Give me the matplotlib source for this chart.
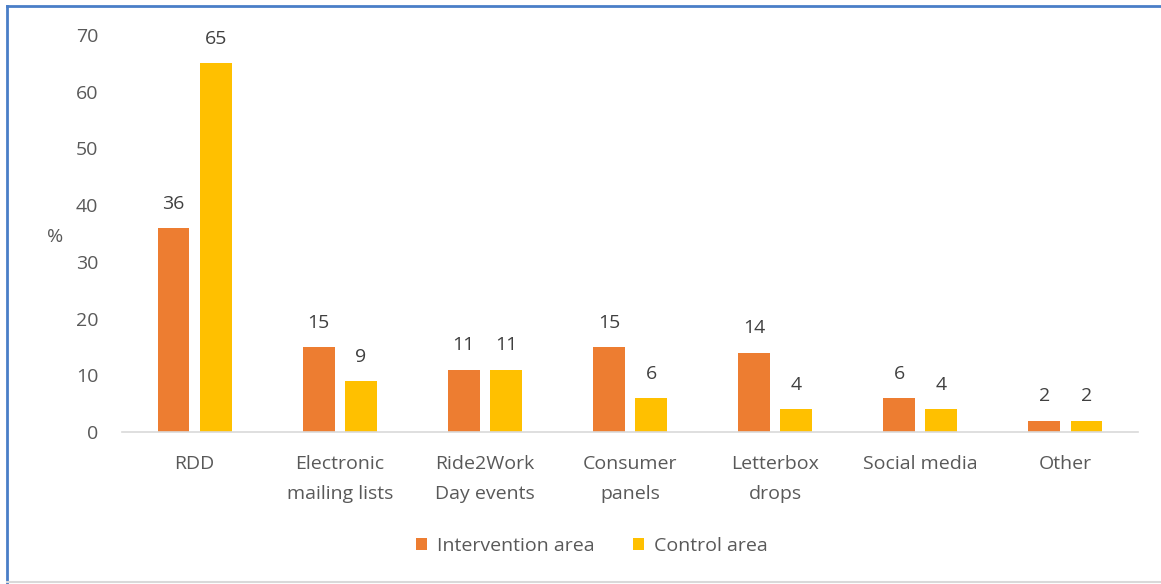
import matplotlib
matplotlib.use("Agg")
import matplotlib.pyplot as plt
import numpy as np

categories = ["RDD", "Electronic\nmailing lists", "Ride2Work\nDay events",
              "Consumer\npanels", "Letterbox\ndrops", "Social media", "Other"]
intervention = [36, 15, 11, 15, 14, 6, 2]
control = [65, 9, 11, 6, 4, 4, 2]
series_names = ["Intervention area", "Control area"]
yticks = [0, 10, 20, 30, 40, 50, 60, 70]

ORANGE = "#ED7D31"
YELLOW = "#FFC000"
TEXT = "#595959"
FS = 14

plt.rcParams["font.family"] = ["Open Sans", "DejaVu Sans"]

W, H = 1161, 584
fig = plt.figure(figsize=(W / 100, H / 100), dpi=100)
ax = fig.add_axes([122 / W, 1 - 432 / H, 1016 / W, 397 / H])

x = np.arange(len(categories))
bw = 0.22
off = 0.145
b1 = ax.bar(x - off, intervention, bw, color=ORANGE, label=series_names[0])
b2 = ax.bar(x + off, control, bw, color=YELLOW, label=series_names[1])

for bars, vals in ((b1, intervention), (b2, control)):
    for rect, v in zip(bars, vals):
        ax.annotate(f"{v}", (rect.get_x() + rect.get_width() / 2, v),
                    xytext=(0, 11), textcoords="offset points",
                    ha="center", va="bottom", fontsize=FS, color="#404040")

ax.set_xlim(-0.5, len(categories) - 0.5)
ax.set_ylim(0, 70)
ax.set_yticks(yticks)
ax.set_xticks(x)
ax.set_xticklabels(categories, linespacing=1.85)

for s in ("top", "right", "left"):
    ax.spines[s].set_visible(False)
ax.spines["bottom"].set_color("#D9D9D9")
ax.spines["bottom"].set_linewidth(1.2)
ax.tick_params(axis="both", length=0, colors=TEXT, labelsize=FS)
ax.tick_params(axis="y", pad=17)
ax.tick_params(axis="x", pad=16.5)

ax.set_ylabel("%", rotation=0, fontsize=FS, color=TEXT, va="center")
ax.yaxis.set_label_coords(-0.066, (432 - 237) / 397)

fig.legend(handles=[b1, b2], loc="center", bbox_to_anchor=(592 / W, 1 - 546 / H),
           ncol=2, frameon=False, fontsize=FS, handlelength=0.55, handleheight=0.55,
           handletextpad=0.5, columnspacing=2.0, labelcolor=TEXT)

# outer frame: blue on the left and top, light grey at the bottom
fig.add_artist(plt.Line2D([7 / W, 7 / W], [0, 1 - 6 / H], color="#4A7EC7",
                          lw=2, transform=fig.transFigure))
fig.add_artist(plt.Line2D([7 / W, 1], [1 - 6 / H, 1 - 6 / H], color="#4A7EC7",
                          lw=2, transform=fig.transFigure))
fig.add_artist(plt.Line2D([7 / W, 1], [1 - 582 / H, 1 - 582 / H], color="#D9D9D9",
                          lw=1.5, transform=fig.transFigure))

fig.savefig("out.png", dpi=100)
